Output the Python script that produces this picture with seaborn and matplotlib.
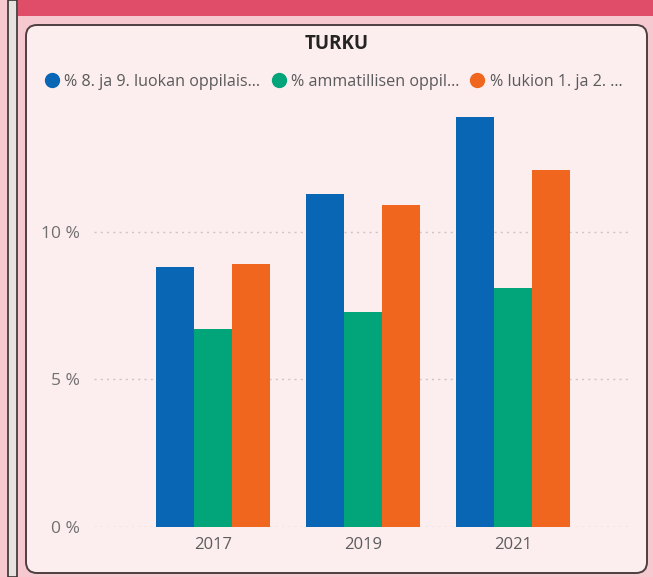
import numpy as np
import pandas as pd
import seaborn as sns
import matplotlib.pyplot as plt
from matplotlib.patches import FancyBboxPatch, Rectangle
from matplotlib.lines import Line2D

# data
years = ["2017", "2019", "2021"]
series = ["% 8. ja 9. luokan oppilais...",
          "% ammatillisen oppil...",
          "% lukion 1. ja 2. ..."]
blue_vals = [8.8, 11.3, 13.9]
green_vals = [6.7, 7.3, 8.1]
orange_vals = [8.9, 10.9, 12.1]
colors = ["#0866b4", "#02a47a", "#f0661f"]

df = pd.DataFrame({
    "vuosi": years * 3,
    "sarja": [series[0]] * 3 + [series[1]] * 3 + [series[2]] * 3,
    "arvo": blue_vals + green_vals + orange_vals,
})

sns.set_style("white")
plt.rcParams["font.family"] = ["Open Sans", "DejaVu Sans"]

W, H = 653, 577
fig = plt.figure(figsize=(W / 100, H / 100), dpi=100)
fig.patch.set_facecolor("#f6c8d0")

def px(x, y):
    # pixel (top-left origin) -> inches for dpi_scale_trans
    return x / 100, (H - y) / 100

# top red band and left strip
fig.add_artist(Rectangle(px(18, 16), (W - 18) / 100, 16 / 100, transform=fig.dpi_scale_trans,
                         facecolor="#e04d68", edgecolor="none", zorder=-2))
fig.add_artist(Rectangle(px(8, H), 9 / 100, H / 100, transform=fig.dpi_scale_trans,
                         facecolor="#e6e2df", edgecolor="#3a3033", linewidth=1.2, zorder=-2))

# inner card
x0, y0 = px(26, 573)
card = FancyBboxPatch((x0, y0), (647 - 26) / 100, (573 - 25) / 100,
                      boxstyle="round,pad=0,rounding_size=0.11",
                      transform=fig.dpi_scale_trans, facecolor="#fcedef",
                      edgecolor="#4d3e41", linewidth=1.4, zorder=-1)
fig.add_artist(card)

ax = fig.add_axes([94 / W, (H - 527) / H, (631 - 94) / W, (527 - 100) / H])
ax.set_facecolor("none")

sns.barplot(data=df, x="vuosi", y="arvo", hue="sarja", palette=colors,
            width=0.76, linewidth=0, saturation=1, errorbar=None, ax=ax)

ax.set_xlim(-0.793, 2.787)
ax.set_ylim(0, 14.47)
ax.set_yticks([0, 5, 10])
ax.set_yticklabels(["0 %", "5 %", "10 %"])
ax.set_xlabel("")
ax.set_ylabel("")
ax.tick_params(axis="y", length=0, pad=10, labelsize=12.5, labelcolor="#707070")
ax.tick_params(axis="x", length=0, pad=7, labelsize=12, labelcolor="#5c5c5c")
for y in [0, 5, 10]:
    ax.axhline(y, color="#cdc5c7", linestyle=(0, (1.5, 3)), linewidth=1, zorder=0)
for s in ax.spines.values():
    s.set_visible(False)

ax.get_legend().remove()
handles = [Line2D([], [], marker="o", linestyle="none", markersize=10,
                  markerfacecolor=c, markeredgecolor=c) for c in colors]
fig.legend(handles, series, loc="center left", bbox_to_anchor=(39 / W, 1 - 82 / H),
           ncol=3, frameon=False, fontsize=11.6, labelcolor="#5a5a5a",
           handlelength=0.8, handletextpad=0.35, columnspacing=0.75, borderaxespad=0)

fig.text(337 / W, 1 - 44 / H, "TURKU", ha="center", va="center",
         fontsize=13.5, fontweight="bold", color="#252423")

fig.savefig("out.png", dpi=100)
